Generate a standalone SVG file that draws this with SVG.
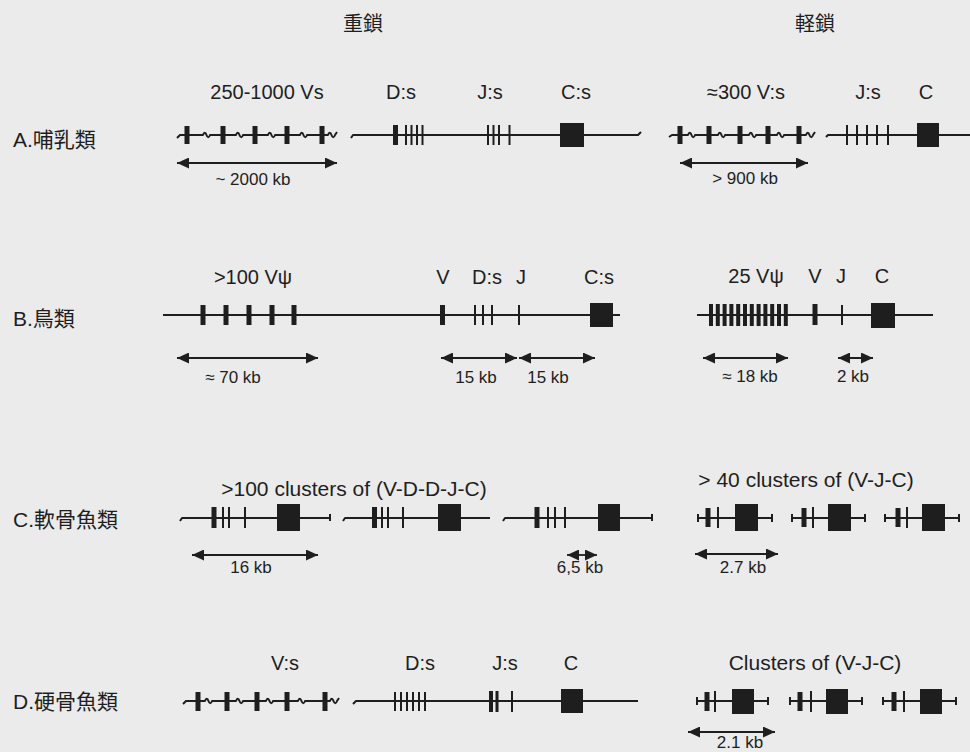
<svg xmlns="http://www.w3.org/2000/svg" width="970" height="752" viewBox="0 0 970 752">
<defs>
<style>
.bg{fill:#ebebeb}
.ln{fill:none;stroke:#1e1e1e;stroke-width:2;stroke-linecap:butt;stroke-linejoin:round}
.bar{fill:#1e1e1e}
.box{fill:#1e1e1e}
.arr{fill:none;stroke:#1e1e1e;stroke-width:1.8;marker-start:url(#ah);marker-end:url(#ah)}
.t{font-family:"Liberation Sans","Noto Sans CJK JP",sans-serif;fill:#1e1e1e;font-size:20px;text-anchor:middle}
.tc{font-family:"Liberation Sans","Noto Sans CJK JP",sans-serif;fill:#1e1e1e;font-size:21px}
.ts{font-family:"Liberation Sans",sans-serif;fill:#1e1e1e;font-size:17px;text-anchor:middle}
.tl{font-family:"Liberation Sans",sans-serif;fill:#1e1e1e;font-size:21px;text-anchor:middle}
</style>
<marker id="ah" viewBox="0 0 12 11" refX="12" refY="5.5" markerWidth="12" markerHeight="11" markerUnits="userSpaceOnUse" orient="auto-start-reverse">
<path d="M0,0 L12,5.5 L0,11 z" fill="#1e1e1e"/>
</marker>
</defs>
<rect class="bg" x="0" y="0" width="970" height="752"/>

<g id="headers">
<text class="t" x="363" y="31">重鎖</text>
<text class="t" x="815" y="31">軽鎖</text>
</g>

<g id="row-labels">
<text class="tc" x="13" y="147">A.哺乳類</text>
<text class="tc" x="13" y="326">B.鳥類</text>
<text class="tc" x="13" y="527">C.軟骨魚類</text>
<text class="tc" x="13" y="709">D.硬骨魚類</text>
</g>

<!-- Row A heavy -->
<g id="A-heavy">
<path class="ln" d="M177,138 l3,-3 H203 c1,-3 2.5,-3 3.5,0 s2.5,3 3.5,0 H236 c1,-3 2.5,-3 3.5,0 s2.5,3 3.5,0 H268 c1,-3 2.5,-3 3.5,0 s2.5,3 3.5,0 H300 c1,-3 2.5,-3 3.5,0 s2.5,3 3.5,0 H328 c1,-3 2.5,-3 3.5,0 s2.5,3 3.5,0 l2,-3"/>
<rect class="bar" x="184.5" y="126" width="5" height="18"/>
<rect class="bar" x="220.5" y="126" width="5" height="18"/>
<rect class="bar" x="252.5" y="126" width="5" height="18"/>
<rect class="bar" x="284.5" y="126" width="5" height="18"/>
<rect class="bar" x="319.5" y="126" width="5" height="18"/>
<path class="ln" d="M351,138 l2,-3 H638 l3,-3"/>
<rect class="bar" x="393" y="125" width="5" height="20"/>
<rect class="bar" x="405" y="125" width="2" height="20"/>
<rect class="bar" x="410.5" y="125" width="2" height="20"/>
<rect class="bar" x="416" y="125" width="2" height="20"/>
<rect class="bar" x="421.5" y="125" width="2" height="20"/>
<rect class="bar" x="487" y="125" width="2" height="20"/>
<rect class="bar" x="492.5" y="125" width="2" height="20"/>
<rect class="bar" x="498" y="125" width="2" height="20"/>
<rect class="bar" x="508.5" y="125" width="2" height="20"/>
<rect class="box" x="560" y="123" width="24" height="24"/>
<text class="t" x="267" y="99">250-1000 Vs</text>
<text class="t" x="401" y="99">D:s</text>
<text class="t" x="490" y="99">J:s</text>
<text class="t" x="576" y="99">C:s</text>
</g>

<!-- Row A light -->
<g id="A-light">
<path class="ln" d="M669,137 l3,-2 H688 c1,-3 2.5,-3 3.5,0 s2.5,3 3.5,0 H718 c1,-3 2.5,-3 3.5,0 s2.5,3 3.5,0 H749 c1,-3 2.5,-3 3.5,0 s2.5,3 3.5,0 H777 c1,-3 2.5,-3 3.5,0 s2.5,3 3.5,0 H806 c1,-3 2.5,-3 3.5,0 s2.5,3 3.5,0 l2,-3"/>
<rect class="bar" x="677.5" y="126" width="5" height="18"/>
<rect class="bar" x="706.5" y="126" width="5" height="18"/>
<rect class="bar" x="737.5" y="126" width="5" height="18"/>
<rect class="bar" x="765.5" y="126" width="5" height="18"/>
<rect class="bar" x="796.5" y="126" width="5" height="18"/>
<path class="ln" d="M826,137 l2,-2 H970"/>
<rect class="bar" x="846" y="125" width="2" height="20"/>
<rect class="bar" x="856" y="125" width="2" height="20"/>
<rect class="bar" x="866" y="125" width="2" height="20"/>
<rect class="bar" x="876" y="125" width="2" height="20"/>
<rect class="bar" x="887" y="125" width="2" height="20"/>
<rect class="box" x="917" y="123" width="22" height="24"/>
<text class="t" x="746" y="99">≈300 V:s</text>
<text class="t" x="868" y="99">J:s</text>
<text class="t" x="926" y="99">C</text>
</g>

<!-- Row B heavy -->
<g id="B-heavy">
<path class="ln" d="M163,315 H620"/>
<rect class="bar" x="200.5" y="305" width="5" height="20"/>
<rect class="bar" x="223.5" y="305" width="5" height="20"/>
<rect class="bar" x="246.5" y="305" width="5" height="20"/>
<rect class="bar" x="269.5" y="305" width="5" height="20"/>
<rect class="bar" x="291.5" y="305" width="5" height="20"/>
<rect class="bar" x="440" y="305" width="5" height="20"/>
<rect class="bar" x="474" y="305" width="2" height="20"/>
<rect class="bar" x="482" y="305" width="2" height="20"/>
<rect class="bar" x="491" y="305" width="2" height="20"/>
<rect class="bar" x="518" y="305" width="2" height="20"/>
<rect class="box" x="590" y="303" width="23" height="24"/>
<text class="t" x="253" y="284">&gt;100 Vψ</text>
<text class="t" x="443" y="284">V</text>
<text class="t" x="487" y="284">D:s</text>
<text class="t" x="521" y="284">J</text>
<text class="t" x="599" y="284">C:s</text>
</g>

<!-- Row B light -->
<g id="B-light">
<path class="ln" d="M697,315 H933"/>
<rect class="bar" x="709" y="304" width="4" height="22"/>
<rect class="bar" x="715.8" y="304" width="4" height="22"/>
<rect class="bar" x="722.6" y="304" width="4" height="22"/>
<rect class="bar" x="729.4" y="304" width="4" height="22"/>
<rect class="bar" x="736.2" y="304" width="4" height="22"/>
<rect class="bar" x="743" y="304" width="4" height="22"/>
<rect class="bar" x="749.8" y="304" width="4" height="22"/>
<rect class="bar" x="756.6" y="304" width="4" height="22"/>
<rect class="bar" x="763.4" y="304" width="4" height="22"/>
<rect class="bar" x="770.2" y="304" width="4" height="22"/>
<rect class="bar" x="777" y="304" width="4" height="22"/>
<rect class="bar" x="783.8" y="304" width="4" height="22"/>
<rect class="bar" x="812.5" y="304" width="5" height="21"/>
<rect class="bar" x="841" y="305" width="2" height="20"/>
<rect class="box" x="871" y="303" width="24" height="25"/>
<text class="t" x="756" y="283">25 Vψ</text>
<text class="t" x="815" y="283">V</text>
<text class="t" x="841" y="283">J</text>
<text class="t" x="882" y="283">C</text>
</g>

<!-- Row C heavy -->
<g id="C-heavy">
<path class="ln" d="M180,521 l2,-3 H330 M330,514 V521"/>
<rect class="bar" x="211.5" y="507" width="5" height="21"/>
<rect class="bar" x="222" y="507" width="2" height="21"/>
<rect class="bar" x="228" y="507" width="2" height="21"/>
<rect class="bar" x="244" y="507" width="2" height="21"/>
<rect class="box" x="277" y="504" width="23" height="27"/>
<path class="ln" d="M343,521 l2,-3 H490"/>
<rect class="bar" x="372" y="507" width="5" height="21"/>
<rect class="bar" x="381" y="507" width="2" height="21"/>
<rect class="bar" x="387" y="507" width="2" height="21"/>
<rect class="bar" x="402" y="507" width="2" height="21"/>
<rect class="box" x="438" y="504" width="23" height="27"/>
<path class="ln" d="M503,521 l2,-3 H652 M652,514 V521"/>
<rect class="bar" x="534.5" y="507" width="5" height="21"/>
<rect class="bar" x="547" y="507" width="2" height="21"/>
<rect class="bar" x="554" y="507" width="2" height="21"/>
<rect class="bar" x="564" y="507" width="2" height="21"/>
<rect class="box" x="598" y="504" width="22" height="27"/>
<text class="tl" x="354" y="496">&gt;100 clusters of (V-D-D-J-C)</text>
</g>

<!-- Row C light -->
<g id="C-light">
<path class="ln" d="M698,518 H772 M698,514 V522 M772,514 V522"/>
<rect class="bar" x="705.5" y="508" width="5" height="19"/>
<rect class="bar" x="717" y="507" width="2" height="21"/>
<rect class="box" x="735" y="504" width="23" height="27"/>
<path class="ln" d="M792,518 H865 M792,514 V522 M865,514 V522"/>
<rect class="bar" x="801.5" y="508" width="5" height="19"/>
<rect class="bar" x="812" y="507" width="2" height="21"/>
<rect class="box" x="828" y="504" width="23" height="27"/>
<path class="ln" d="M885,518 H959 M885,514 V522 M959,514 V522"/>
<rect class="bar" x="895.5" y="508" width="5" height="19"/>
<rect class="bar" x="906" y="507" width="2" height="21"/>
<rect class="box" x="922" y="504" width="23" height="27"/>
<text class="tl" x="806" y="487">&gt; 40 clusters of (V-J-C)</text>
</g>

<!-- Row D heavy -->
<g id="D-heavy">
<path class="ln" d="M183,704 l3,-3 H205 c1,-3 2.5,-3 3.5,0 s2.5,3 3.5,0 H236 c1,-3 2.5,-3 3.5,0 s2.5,3 3.5,0 H266 c1,-3 2.5,-3 3.5,0 s2.5,3 3.5,0 H298 c1,-3 2.5,-3 3.5,0 s2.5,3 3.5,0 H330 c1,-3 2.5,-3 3.5,0 s2.5,3 3.5,0 l2,-3"/>
<rect class="bar" x="195.5" y="692" width="5" height="19"/>
<rect class="bar" x="224.5" y="692" width="5" height="19"/>
<rect class="bar" x="254.5" y="692" width="5" height="19"/>
<rect class="bar" x="284.5" y="692" width="5" height="19"/>
<rect class="bar" x="322.5" y="692" width="5" height="19"/>
<path class="ln" d="M353,704 l3,-3 H638"/>
<rect class="bar" x="394" y="692" width="2" height="19"/>
<rect class="bar" x="400" y="692" width="2" height="19"/>
<rect class="bar" x="406" y="692" width="2" height="19"/>
<rect class="bar" x="412" y="692" width="2" height="19"/>
<rect class="bar" x="418" y="692" width="2" height="19"/>
<rect class="bar" x="424" y="692" width="2" height="19"/>
<rect class="bar" x="489" y="691" width="4" height="21"/>
<rect class="bar" x="495.5" y="691" width="3" height="21"/>
<rect class="bar" x="511" y="691" width="2" height="21"/>
<rect class="box" x="561" y="689" width="22" height="24"/>
<text class="t" x="285" y="670">V:s</text>
<text class="t" x="420" y="670">D:s</text>
<text class="t" x="505" y="670">J:s</text>
<text class="t" x="571" y="670">C</text>
</g>

<!-- Row D light -->
<g id="D-light">
<path class="ln" d="M697,701 H768 M697,697 V705 M768,697 V705"/>
<rect class="bar" x="704.5" y="692" width="5" height="19"/>
<rect class="bar" x="714" y="691" width="2" height="21"/>
<rect class="box" x="732" y="689" width="22" height="25"/>
<path class="ln" d="M790,701 H862 M790,697 V705 M862,697 V705"/>
<rect class="bar" x="797.5" y="692" width="5" height="19"/>
<rect class="bar" x="810" y="691" width="2" height="21"/>
<rect class="box" x="826" y="689" width="22" height="25"/>
<path class="ln" d="M883,701 H956 M883,697 V705 M956,697 V705"/>
<rect class="bar" x="891.5" y="692" width="5" height="19"/>
<rect class="bar" x="903" y="691" width="2" height="21"/>
<rect class="box" x="920" y="689" width="22" height="25"/>
<text class="tl" x="815" y="670">Clusters of (V-J-C)</text>
</g>

<!-- Distance arrows (connectors) -->
<g id="connectors">
<line class="arr" x1="177" y1="163" x2="337" y2="163"/>
<line class="arr" x1="680" y1="163" x2="808" y2="163"/>
<line class="arr" x1="177" y1="358" x2="318" y2="358"/>
<line class="arr" x1="441" y1="358" x2="517" y2="358"/>
<line class="arr" x1="519" y1="358" x2="595" y2="358"/>
<line class="arr" x1="703" y1="358" x2="788" y2="358"/>
<line class="arr" x1="838" y1="358" x2="873" y2="358"/>
<line class="arr" x1="192" y1="555" x2="318" y2="555"/>
<line class="arr" x1="567" y1="555" x2="597" y2="555"/>
<line class="arr" x1="695" y1="554" x2="778" y2="554"/>
<line class="arr" x1="688" y1="732" x2="775" y2="732"/>
</g>

<g id="distance-labels">
<text class="ts" x="253" y="185">~ 2000 kb</text>
<text class="ts" x="745" y="184">&gt; 900 kb</text>
<text class="ts" x="233" y="383">≈ 70 kb</text>
<text class="ts" x="476" y="383">15 kb</text>
<text class="ts" x="548" y="383">15 kb</text>
<text class="ts" x="750" y="382">≈ 18 kb</text>
<text class="ts" x="853" y="382">2 kb</text>
<text class="ts" x="251" y="573">16 kb</text>
<text class="ts" x="580" y="573">6,5 kb</text>
<text class="ts" x="743" y="573">2.7 kb</text>
<text class="ts" x="740" y="748">2.1 kb</text>
</g>
</svg>
